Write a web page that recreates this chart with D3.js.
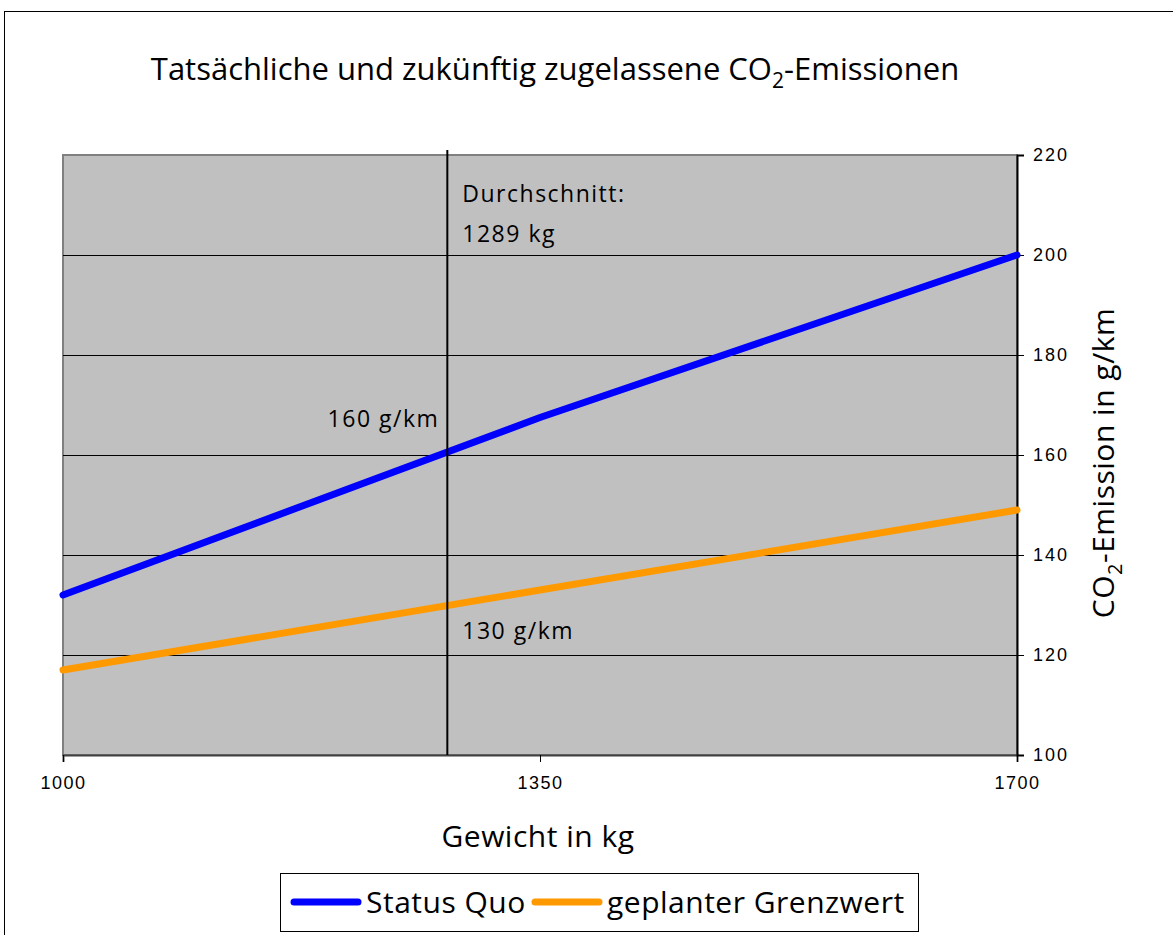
<!DOCTYPE html>
<html>
<head>
<meta charset="utf-8">
<script src="https://cdn.jsdelivr.net/npm/d3@7"></script>
<style>
  body { margin: 0; background: #fff; }
  svg { display: block; }
  .tick text { font-family: "Liberation Sans", Arial, sans-serif; }
</style>
</head>
<body>
<div id="chart"></div>
<script>
'use strict'

// Data
const weights = [1000, 1350, 1700];
const statusQuo = [132, 167.5, 200];
const grenzwert = [117, 133, 149];
const yTicks = [100, 120, 140, 160, 180, 200, 220];
const xTicks = [1000, 1350, 1700];
const avgWeightPos = 1282; // where the vertical marker sits
const seriesNames = ["Status Quo", "geplanter Grenzwert"];
const seriesColors = ["#0000ff", "#ff9900"];

const width = 1173;
const height = 935;
const plot = { left: 63, top: 155, right: 1017, bottom: 755 };
const font = "'Open Sans', 'Noto Sans', sans-serif";

const svg = d3.select("#chart")
    .append("svg")
    .attr("width", width)
    .attr("height", height);

// outer chart border
svg.append("rect")
    .attr("x", 4.5)
    .attr("y", 11.5)
    .attr("width", width + 20)
    .attr("height", height + 20)
    .attr("fill", "#fff")
    .attr("stroke", "#000")
    .attr("stroke-width", 1);

const x = d3.scaleLinear()
    .domain([1000, 1700])
    .range([plot.left, plot.right]);

const y = d3.scaleLinear()
    .domain([100, 220])
    .range([plot.bottom, plot.top]);

// plot background
svg.append("rect")
    .attr("x", plot.left)
    .attr("y", plot.top)
    .attr("width", plot.right - plot.left)
    .attr("height", plot.bottom - plot.top)
    .attr("fill", "#c0c0c0")
    .attr("stroke", "#808080")
    .attr("stroke-width", 2);

// grid lines
svg.append("g")
    .selectAll("line")
    .data(yTicks.filter(d => d > 100 && d < 220))
    .enter().append("line")
    .attr("x1", plot.left)
    .attr("x2", plot.right)
    .attr("y1", d => Math.round(y(d)) + 0.5)
    .attr("y2", d => Math.round(y(d)) + 0.5)
    .attr("stroke", "#000")
    .attr("stroke-width", 1);

// bottom axis
const xAxis = svg.append("g")
    .attr("transform", `translate(0,${plot.bottom})`)
    .call(d3.axisBottom(x).tickValues(xTicks).tickSize(7).tickPadding(14).tickFormat(d3.format("d")));
xAxis.select(".domain").attr("stroke", "#404040").attr("stroke-width", 2);
xAxis.selectAll(".tick line").attr("stroke", "#000");
xAxis.selectAll(".tick text")
    .attr("fill", "#000")
    .style("font-size", "18px")
    .style("letter-spacing", "1.5px");

// right axis
const yAxis = svg.append("g")
    .attr("transform", `translate(${plot.right},0)`)
    .call(d3.axisRight(y).tickValues(yTicks).tickSize(7).tickPadding(9));
yAxis.select(".domain").attr("stroke", "#000").attr("stroke-width", 2);
yAxis.selectAll(".tick line").attr("stroke", "#000");
yAxis.selectAll(".tick text")
    .attr("fill", "#000")
    .style("font-size", "18px")
    .style("letter-spacing", "2px");

// series lines
const line = d3.line()
    .x((d, i) => x(weights[i]))
    .y(d => y(d));

[statusQuo, grenzwert].forEach((s, k) => {
    svg.append("path")
        .datum(s)
        .attr("d", line)
        .attr("fill", "none")
        .attr("stroke", seriesColors[k])
        .attr("stroke-width", 7)
        .attr("stroke-linecap", "round")
        .attr("stroke-linejoin", "round");
});

// average weight marker
svg.append("line")
    .attr("x1", x(avgWeightPos))
    .attr("x2", x(avgWeightPos))
    .attr("y1", plot.top - 5)
    .attr("y2", plot.bottom)
    .attr("stroke", "#000")
    .attr("stroke-width", 2);

// annotations
const note = (tx, ty, txt, anchor) => svg.append("text")
    .attr("x", tx)
    .attr("y", ty)
    .attr("text-anchor", anchor)
    .style("font-family", font)
    .style("font-size", "23px")
    .style("letter-spacing", "1.5px")
    .text(txt);

note(x(avgWeightPos) + 15, 202, "Durchschnitt:", "start");
note(x(avgWeightPos) + 15, 242, "1289 kg", "start");
note(x(avgWeightPos) - 8, 427, "160 g/km", "end");
note(x(avgWeightPos) + 15, 639, "130 g/km", "start");

// title
const title = svg.append("text")
    .attr("x", 555)
    .attr("y", 80)
    .attr("text-anchor", "middle")
    .style("font-family", font)
    .style("font-size", "31px");
title.append("tspan").text("Tatsächliche und zukünftig zugelassene CO");
title.append("tspan").attr("dy", 8).style("font-size", "21px").text("2");
title.append("tspan").attr("dy", -8).text("-Emissionen");

// x axis title
svg.append("text")
    .attr("x", 538)
    .attr("y", 847)
    .attr("text-anchor", "middle")
    .style("font-family", font)
    .style("font-size", "30px")
    .style("letter-spacing", "0.5px")
    .text("Gewicht in kg");

// y axis title
const yTitle = svg.append("text")
    .attr("transform", `translate(1114,${(plot.top + plot.bottom) / 2 + 8}) rotate(-90)`)
    .attr("text-anchor", "middle")
    .style("font-family", font)
    .style("font-size", "30px")
    .style("letter-spacing", "0.5px");
yTitle.append("tspan").text("CO");
yTitle.append("tspan").attr("dy", 8).style("font-size", "20px").text("2");
yTitle.append("tspan").attr("dy", -8).text("-Emission in g/km");

// legend
const legend = svg.append("g").attr("transform", "translate(280,873)");
legend.append("rect")
    .attr("x", 0.5)
    .attr("y", 0.5)
    .attr("width", 638)
    .attr("height", 58)
    .attr("fill", "#fff")
    .attr("stroke", "#000");

const legendX = [12, 253];
const item = legend.selectAll(".legend")
    .data(seriesNames)
    .enter().append("g")
    .attr("class", "legend")
    .attr("transform", (d, i) => `translate(${legendX[i]},0)`);

item.append("line")
    .attr("x1", 2)
    .attr("x2", 66)
    .attr("y1", 29)
    .attr("y2", 29)
    .attr("stroke", (d, i) => seriesColors[i])
    .attr("stroke-width", 7)
    .attr("stroke-linecap", "round");

item.append("text")
    .attr("x", 74)
    .attr("y", 40)
    .style("font-family", font)
    .style("font-size", "30px")
    .style("letter-spacing", "0.5px")
    .text(d => d);
</script>
</body>
</html>
